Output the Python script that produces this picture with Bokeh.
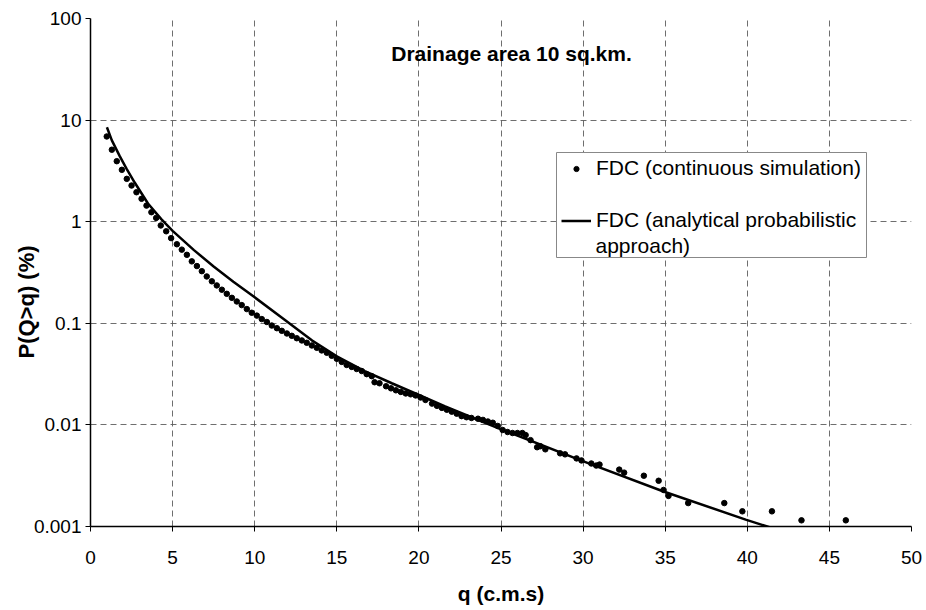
from bokeh.plotting import figure
from bokeh.models import (Range1d, FixedTicker, CustomJSTickFormatter, Label,
                          Legend, LegendItem, Title, BoxAnnotation)
from bokeh.embed import file_html
from bokeh.resources import INLINE

# ---- data ----
sim_q = [0.99, 1.30, 1.60, 1.91, 2.21, 2.50, 2.80, 3.11, 3.41, 3.71, 4.00, 4.28, 4.61, 4.91,
         5.26, 5.56, 5.87, 6.17, 6.48, 6.78, 7.08, 7.39, 7.69, 8.00, 8.30, 8.61, 8.91, 9.21,
         9.52, 9.82, 10.13, 10.43, 10.74, 11.04, 11.35, 11.65, 11.96, 12.26, 12.56, 12.87,
         13.17, 13.48, 13.78, 14.08,
         14.39, 14.69, 15.00, 15.30, 15.60, 15.91, 16.21, 16.52, 16.82, 17.13,
         17.30, 17.60, 18.00, 18.30, 18.60, 18.90, 19.20, 19.50, 19.80, 20.10, 20.40, 20.80,
         21.10, 21.40, 21.70, 22.00, 22.30, 22.60, 22.90, 23.20, 23.60, 23.90, 24.20, 24.50, 24.80,
         25.10, 25.40, 25.70, 26.00, 26.30, 26.50, 26.80, 27.20, 27.40, 27.70,
         28.60, 28.90, 29.60, 29.90, 30.50, 30.80, 31.00, 32.20, 32.50, 33.70, 34.60, 34.90,
         35.20, 36.40, 38.60, 39.70, 41.50, 43.30, 46.00]
sim_p = [6.90, 5.11, 3.94, 3.24, 2.64, 2.27, 1.95, 1.68, 1.44, 1.24, 1.09, 0.918, 0.805, 0.689,
         0.600, 0.531, 0.472, 0.407, 0.366, 0.326, 0.289, 0.259, 0.236, 0.214, 0.195, 0.178,
         0.164, 0.151, 0.138, 0.127, 0.119, 0.110, 0.103, 0.0951, 0.0895, 0.0843, 0.0794,
         0.0753, 0.0713, 0.0678, 0.0643, 0.0605, 0.0574, 0.0541,
         0.0513, 0.0479, 0.0447, 0.0417, 0.0389, 0.0372, 0.0355, 0.0339, 0.0316, 0.0302,
         0.0263, 0.0257, 0.0240, 0.0229, 0.0219, 0.0211, 0.0204, 0.0200, 0.0195, 0.0186,
         0.0176, 0.0162, 0.0154, 0.0147, 0.0141, 0.0135, 0.0129, 0.0122, 0.0119, 0.0117,
         0.0115, 0.0112, 0.0108, 0.0105, 0.00977,
         0.00891, 0.00851, 0.00832, 0.00832, 0.00832, 0.00794, 0.00708, 0.00603, 0.00617,
         0.00575,
         0.00525, 0.00513, 0.00468, 0.00447, 0.00417, 0.00398, 0.00407, 0.00363, 0.00339,
         0.00316, 0.00282, 0.00229, 0.00200, 0.00170, 0.00170, 0.00141, 0.00141, 0.00115,
         0.00115]

ana_q = [1.0, 1.3, 1.78, 2.2, 2.69, 3.5, 4.31, 5.0, 6.3, 7.5, 8.7, 10.0, 11.7, 13.5, 15.0,
         16.7, 18.35, 20.0, 21.6, 23.2, 24.9, 29.9, 34.9, 39.9, 41.5]
ana_p = [8.51, 6.31, 4.42, 3.31, 2.43, 1.51, 1.06, 0.813, 0.525, 0.363, 0.257, 0.180, 0.112,
         0.0676, 0.0473, 0.0339, 0.0257, 0.0197, 0.0152, 0.0119, 0.00920, 0.00445, 0.00221,
         0.00117, 0.000966]

x_ticks = [0, 5, 10, 15, 20, 25, 30, 35, 40, 45, 50]
y_ticks = [0.001, 0.01, 0.1, 1, 10, 100]
title_text = "Drainage area 10 sq.km."
x_label = "q (c.m.s)"
y_label = "P(Q>q) (%)"
legend_labels = ["FDC (continuous simulation)", "FDC (analytical probabilistic", "approach)"]

FONT = "Liberation Sans"

p = figure(width=926, height=610, x_range=Range1d(0, 50), y_range=Range1d(0.001, 100),
           y_axis_type="log", output_backend="svg", toolbar_location=None,
           min_border_left=90, min_border_right=15, min_border_top=18, min_border_bottom=84,
           background_fill_color="white", border_fill_color="white")
p.outline_line_color = None

# axes
p.xaxis.ticker = FixedTicker(ticks=x_ticks)
p.yaxis.ticker = FixedTicker(ticks=y_ticks)
p.yaxis.formatter = CustomJSTickFormatter(code="""
    if (tick >= 1) { return tick.toFixed(0); }
    return String(Number(tick.toPrecision(1)));
""")
for ax in (p.xaxis, p.yaxis):
    ax.axis_line_color = "black"
    ax.axis_line_width = 1.5
    ax.major_tick_line_color = "black"
    ax.major_tick_out = 5
    ax.major_tick_in = 0
    ax.minor_tick_line_color = None
    ax.major_label_text_font = FONT
    ax.major_label_text_font_size = "19px"
    ax.major_label_text_color = "black"
p.xaxis.major_label_standoff = 19
p.yaxis.major_label_standoff = 4

p.xaxis.axis_label = x_label
p.xaxis.axis_label_text_font = FONT
p.xaxis.axis_label_text_font_style = "bold"
p.xaxis.axis_label_text_font_size = "21px"
p.xaxis.axis_label_text_color = "black"
p.xaxis.axis_label_standoff = 15

# y-axis title (placed lower than the frame centre, as in the reference)
p.add_layout(Title(text=y_label, align="left", offset=168, standoff=-17, text_font=FONT,
                   text_font_style="bold", text_font_size="22px", text_color="black"), "left")

# grid
for g in (p.xgrid, p.ygrid):
    g.grid_line_color = "#555555"
    g.grid_line_alpha = 0.85
    g.grid_line_dash = "6 4"
    g.grid_line_width = 1

# data
r_sim = p.scatter(sim_q, sim_p, size=5.5, marker="circle", fill_color="black",
                  line_color="black")
r_ana = p.line(ana_q, ana_p, line_color="black", line_width=2.5)

# title inside plot
p.add_layout(Label(x=421, y=473, x_units="screen", y_units="screen", text=title_text,
                   text_font=FONT, text_font_style="bold", text_font_size="21px",
                   text_align="center", text_baseline="middle", text_color="black"))

# legend box, legend entries and wrapped second line
p.add_layout(BoxAnnotation(left=466, right=776, bottom=269, top=374,
                           left_units="screen", right_units="screen",
                           bottom_units="screen", top_units="screen",
                           fill_color="white", fill_alpha=1.0,
                           line_color="#888888", line_width=1, line_alpha=1.0))
legend = Legend(items=[LegendItem(label=legend_labels[0], renderers=[r_sim]),
                       LegendItem(label=legend_labels[1], renderers=[r_ana])],
                location=(471, 293.5), label_text_font=FONT, label_text_font_size="21px",
                label_text_color="black", glyph_width=30, glyph_height=13, label_height=25,
                padding=4, spacing=27, label_standoff=5, margin=0, border_line_color=None,
                background_fill_alpha=0.0)
p.add_layout(legend)
p.add_layout(Label(x=505, y=281, x_units="screen", y_units="screen", text=legend_labels[2],
                   text_font=FONT, text_font_size="21px", text_align="left",
                   text_baseline="middle", text_color="black"))

open("out.html", "w").write(file_html(p, INLINE))
